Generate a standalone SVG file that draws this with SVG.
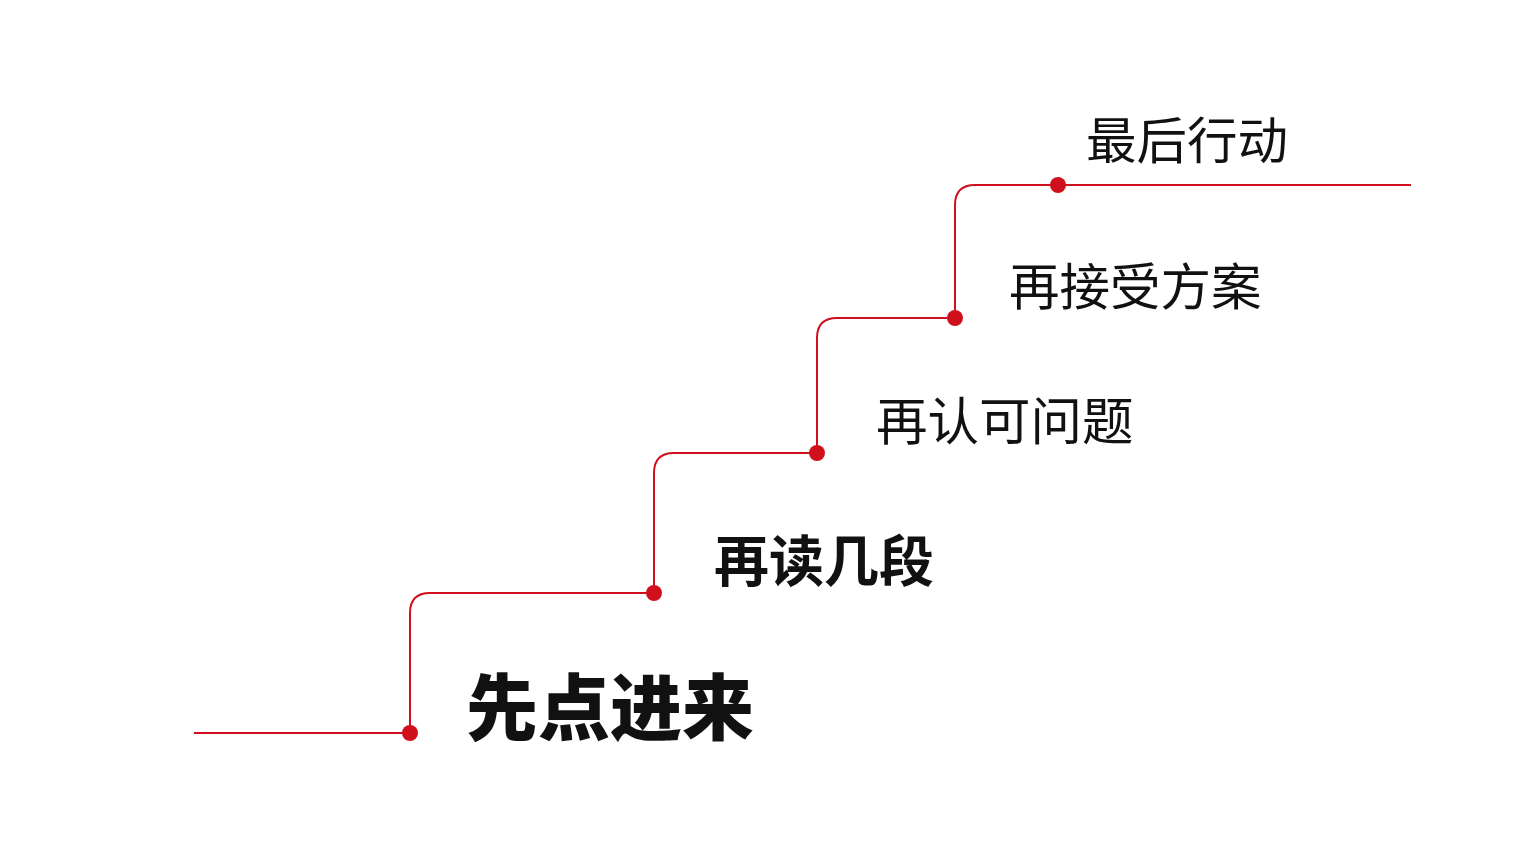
<svg xmlns="http://www.w3.org/2000/svg" width="1536" height="864" viewBox="0 0 1536 864">
<style>
.l{fill:none;stroke:#d0101c;stroke-width:2}
.d{fill:#d0101c}
text{font-family:"Noto Sans CJK SC",sans-serif;fill:#111}
</style>
<rect width="1536" height="864" fill="#fff"/>
<g id="connectors">
<path class="l" d="M194 733H410V613Q410 593 430 593H654V473Q654 453 674 453H817V338Q817 318 837 318H955V205Q955 185 975 185H1411"/>
</g>
<g id="n1"><circle class="d" cx="410" cy="733" r="8"/><text x="466" y="734" font-size="72" font-weight="900">先点进来</text></g>
<g id="n2"><circle class="d" cx="654" cy="593" r="8"/><text x="714" y="581" font-size="55" font-weight="700">再读几段</text></g>
<g id="n3"><circle class="d" cx="817" cy="453" r="8"/><text x="876" y="440" font-size="51.5">再认可问题</text></g>
<g id="n4"><circle class="d" cx="955" cy="318" r="8"/><text x="1009" y="305" font-size="50.5">再接受方案</text></g>
<g id="n5"><circle class="d" cx="1058" cy="185" r="8"/><text x="1086" y="159" font-size="50.5">最后行动</text></g>
</svg>
